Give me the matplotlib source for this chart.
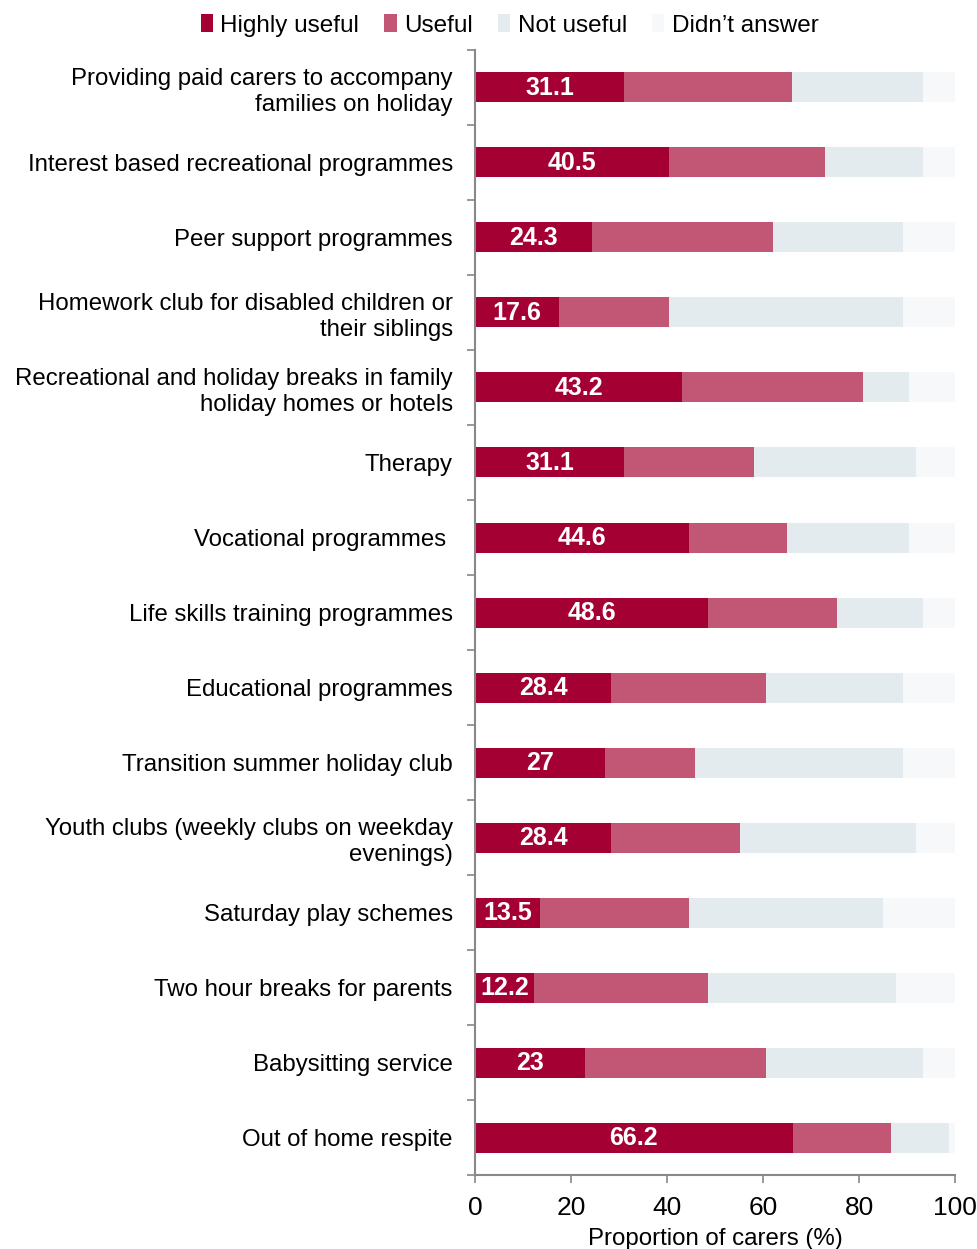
import numpy as np
import matplotlib.pyplot as plt
from matplotlib.ticker import FixedLocator

plt.rcParams['font.family'] = ['Liberation Sans', 'DejaVu Sans']

# Podaci (postotak njegovatelja)
kategorije = [
    'Providing paid carers to accompany\nfamilies on holiday',
    'Interest based recreational programmes',
    'Peer support programmes',
    'Homework club for disabled children or\ntheir siblings',
    'Recreational and holiday breaks in family\nholiday homes or hotels',
    'Therapy',
    'Vocational programmes ',
    'Life skills training programmes',
    'Educational programmes',
    'Transition summer holiday club',
    'Youth clubs (weekly clubs on weekday\nevenings)',
    'Saturday play schemes',
    'Two hour breaks for parents',
    'Babysitting service',
    'Out of home respite',
]
highly_useful = [31.1, 40.5, 24.3, 17.6, 43.2, 31.1, 44.6, 48.6, 28.4, 27, 28.4, 13.5, 12.2, 23, 66.2]
useful = [35.0, 32.4, 37.8, 22.9, 37.7, 27.0, 20.3, 26.9, 32.3, 18.8, 26.9, 31.1, 36.4, 37.7, 20.4]
not_useful = [27.2, 20.4, 27.0, 48.7, 9.6, 33.8, 25.6, 17.8, 28.5, 43.3, 36.6, 40.5, 39.2, 32.6, 12.1]
didnt_answer = [6.7, 6.7, 10.9, 10.8, 9.5, 8.1, 9.5, 6.7, 10.8, 10.9, 8.1, 14.9, 12.2, 6.7, 1.3]

serije = ['Highly useful', 'Useful', 'Not useful', 'Didn\u2019t answer']
boje = ['#A50034', '#C25675', '#E4EBEF', '#F6F8FA']

fig = plt.figure(figsize=(9.78, 12.49), dpi=100)
ax = fig.add_axes([0.4857, 0.0592, 0.4908, 0.9008])

y = np.arange(len(kategorije))
lijevo = np.zeros(len(kategorije))
for ime, vrijednosti, boja in zip(serije, [highly_useful, useful, not_useful, didnt_answer], boje):
    v = np.array(vrijednosti)
    ax.barh(y, v, left=lijevo, height=0.4, color=boja, label=ime)
    lijevo += v

# Oznake vrijednosti u prvom segmentu
for yi, v in zip(y, highly_useful):
    ax.text(v / 2, yi + 0.01, f'{v:g}', color='white', fontsize=18, fontweight='bold',
            ha='center', va='center')

ax.set_xlim(0, 100)
ax.set_ylim(len(kategorije) - 0.5, -0.5)
ax.set_yticks(y)
ax.set_yticklabels(kategorije, fontsize=17.3, linespacing=1.25)
ax.yaxis.set_minor_locator(FixedLocator(np.arange(-0.5, len(kategorije), 1)))
ax.tick_params(axis='y', which='major', length=0, pad=16)
ax.tick_params(axis='y', which='minor', length=6, color='#888888', width=1.2)
ax.set_xticks(np.arange(0, 101, 20))
ax.tick_params(axis='x', labelsize=19, length=6, color='#888888', width=1.2, pad=9)
ax.set_xlabel('Proportion of carers (%)', fontsize=17.3, labelpad=6)

for s in ['top', 'right']:
    ax.spines[s].set_visible(False)
for s in ['left', 'bottom']:
    ax.spines[s].set_color('#888888')
    ax.spines[s].set_linewidth(1.5)

fig.legend(loc='upper center', bbox_to_anchor=(0.521, 1.006), ncol=4, frameon=False,
           fontsize=17.5, handlelength=0.5, handleheight=0.75, handletextpad=0.3,
           columnspacing=1.05)

plt.savefig('out.png', dpi=100)
